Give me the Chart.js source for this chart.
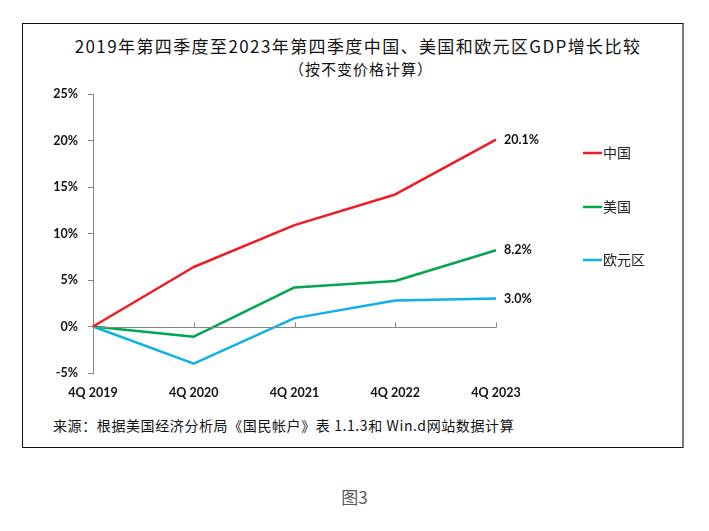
<!DOCTYPE html>
<html>
<head>
<meta charset="utf-8">
<script src="https://cdn.jsdelivr.net/npm/chart.js@4/dist/chart.umd.min.js"></script>
<style>
	body { margin: 0; background: #fff; width: 709px; height: 531px; overflow: hidden; position: relative; }
	#frame { position: absolute; left: 22px; top: 23px; width: 662px; height: 425px; box-sizing: border-box;
		border: 1.5px solid #111; border-right: 2px solid #7a7a7a; }
	.txt { position: absolute; font-family: "Noto Sans CJK SC", sans-serif; color: #111; white-space: nowrap; }
	#title1 { left: 0; width: 716px; text-align: center; top: 33px; font-size: 17px; letter-spacing: 1.4px; }
	#title2 { left: 0; width: 722px; text-align: center; top: 58px; font-size: 15px; letter-spacing: 1px; }
	#source { left: 53px; top: 415px; font-size: 14px; letter-spacing: 0.6px; }
	#fig { left: 0; width: 709px; text-align: center; top: 484px; font-size: 17px; color: #595959; }
	canvas { position: absolute; left: 0; top: 0; }
</style>
</head>
<body>
<div id="frame"></div>
<div class="txt" id="title1">2019年第四季度至2023年第四季度中国、美国和欧元区GDP增长比较</div>
<div class="txt" id="title2">（按不变价格计算）</div>
<div class="txt" id="source">来源：根据美国经济分析局《国民帐户》表 1.1.3和 Win.d网站数据计算</div>
<div class="txt" id="fig">图3</div>
<canvas id="gdpChart" width="709" height="531"></canvas>
<script>
const quarters = ['4Q 2019', '4Q 2020', '4Q 2021', '4Q 2022', '4Q 2023'];
const chinaGrowth = [0, 6.4, 10.9, 14.2, 20.1];
const usGrowth = [0, -1.1, 4.2, 4.9, 8.2];
const euroGrowth = [0, -4.0, 0.9, 2.8, 3.0];
const seriesNames = ['中国', '美国', '欧元区'];
const seriesColors = ['#ee1c25', '#00a650', '#10b0e8'];

const axisGray = '#868686';
const boldFont = { family: 'Lato, "Open Sans", sans-serif', size: 12.5, weight: 'bold' };

// zero line with small ticks, end labels and legend
const decorations = {
	id: 'decorations',
	afterDatasetsDraw(chart) {
		const ctx = chart.ctx;
		const x = chart.scales.x, y = chart.scales.y;
		const y0 = Math.round(y.getPixelForValue(0)) + 0.5;
		ctx.save();
		ctx.strokeStyle = axisGray;
		ctx.lineWidth = 1;
		ctx.beginPath();
		ctx.moveTo(chart.chartArea.left, y0);
		ctx.lineTo(chart.chartArea.right, y0);
		for (let i = 1; i < quarters.length; i++) {
			const px = Math.round(x.getPixelForValue(i)) + 0.5;
			ctx.moveTo(px, y0);
			ctx.lineTo(px, y0 - 5);
		}
		ctx.stroke();

		ctx.font = 'bold 12.5px Lato, "Open Sans", sans-serif';
		ctx.fillStyle = '#111';
		ctx.textBaseline = 'middle';
		chart.data.datasets.forEach((ds, i) => {
			const pt = chart.getDatasetMeta(i).data[ds.data.length - 1];
			ctx.fillText(ds.data[ds.data.length - 1].toFixed(1) + '%', pt.x + 8, pt.y);
		});

		ctx.font = '14px "Noto Sans CJK SC", sans-serif';
		const legendY = [153, 207, 260];
		chart.data.datasets.forEach((ds, i) => {
			ctx.strokeStyle = ds.borderColor;
			ctx.lineWidth = 2.5;
			ctx.beginPath();
			ctx.moveTo(583, legendY[i]);
			ctx.lineTo(602, legendY[i]);
			ctx.stroke();
			ctx.fillStyle = '#222';
			ctx.fillText(ds.label, 603, legendY[i]);
		});
		ctx.restore();
	}
};

const ctx = document.getElementById('gdpChart').getContext('2d');
const gdpChart = new Chart(ctx, {
	type: 'line',
	data: {
		labels: quarters,
		datasets: [
			{ label: seriesNames[0], data: chinaGrowth, borderColor: seriesColors[0] },
			{ label: seriesNames[1], data: usGrowth, borderColor: seriesColors[1] },
			{ label: seriesNames[2], data: euroGrowth, borderColor: seriesColors[2] },
		],
	},
	options: {
		responsive: false,
		animation: false,
		devicePixelRatio: 1,
		elements: {
			line: { borderWidth: 2.5, tension: 0, borderJoinStyle: 'round' },
			point: { radius: 0 },
		},
		layout: { padding: { left: 0, top: 94, right: 213, bottom: 0 } },
		plugins: {
			legend: { display: false },
			tooltip: { enabled: false },
		},
		scales: {
			x: {
				offset: false,
				grid: { display: false, drawTicks: false },
				border: { display: false },
				ticks: { color: '#111', font: boldFont, padding: 12, maxRotation: 0, autoSkip: false },
				afterFit: function(scale) { scale.height = 531 - 373; },
			},
			y: {
				min: -5, max: 25,
				ticks: {
					stepSize: 5,
					color: '#111',
					font: boldFont,
					padding: 10,
					callback: function(v) { return v + '%'; },
				},
				grid: { drawOnChartArea: false, drawTicks: true, tickLength: 5, color: axisGray },
				border: { display: true, color: axisGray, width: 1 },
				afterFit: function(scale) { scale.width = 93; },
			},
		},
	},
	plugins: [decorations],
});
</script>
</body>
</html>
